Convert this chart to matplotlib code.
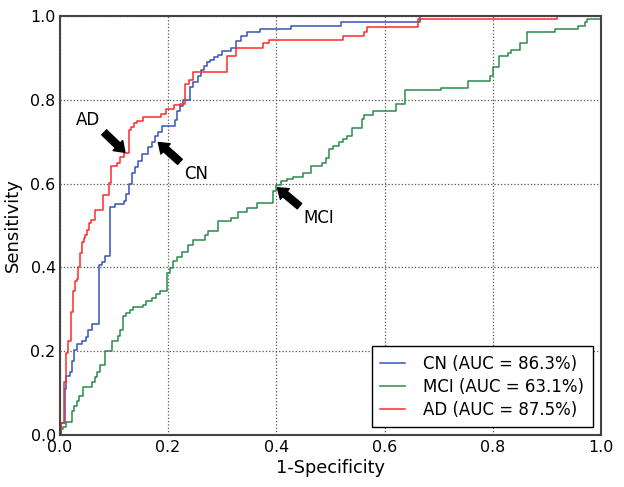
import matplotlib
matplotlib.use('Agg')
import matplotlib.pyplot as plt

# ROC step corners (fpr, tpr)
cn_fpr = [0, 0.002, 0.009, 0.012, 0.018, 0.022, 0.026, 0.031, 0.040, 0.048,
          0.052, 0.0585, 0.0715, 0.077, 0.083, 0.093, 0.1017, 0.119, 0.123,
          0.1275, 0.1325, 0.139, 0.1436, 0.152, 0.162, 0.1695, 0.1756, 0.182,
          0.188, 0.2125, 0.217, 0.222, 0.228, 0.240, 0.246, 0.2557, 0.2606,
          0.266, 0.271, 0.277, 0.285, 0.293, 0.300, 0.317, 0.325, 0.334,
          0.345, 0.370, 0.428, 0.520, 0.665, 1.0]
cn_tpr = [0, 0.03, 0.110, 0.142, 0.152, 0.178, 0.204, 0.218, 0.225, 0.234,
          0.251, 0.265, 0.406, 0.412, 0.428, 0.545, 0.552, 0.559, 0.576,
          0.599, 0.625, 0.639, 0.653, 0.670, 0.687, 0.700, 0.714, 0.722,
          0.736, 0.752, 0.772, 0.784, 0.800, 0.831, 0.841, 0.855, 0.870,
          0.879, 0.889, 0.895, 0.902, 0.907, 0.915, 0.923, 0.939, 0.951,
          0.960, 0.968, 0.976, 0.984, 1.0, 1.0]

mci_fpr = [0, 0.002, 0.006, 0.011, 0.0216, 0.026, 0.031, 0.036, 0.043, 0.0585,
           0.0647, 0.069, 0.074, 0.083, 0.0955, 0.108, 0.112, 0.117, 0.123,
           0.129, 0.135, 0.154, 0.160, 0.1695, 0.1775, 0.185, 0.198, 0.203,
           0.209, 0.217, 0.226, 0.237, 0.246, 0.268, 0.274, 0.293, 0.317,
           0.330, 0.345, 0.365, 0.394, 0.399, 0.408, 0.419, 0.431, 0.449,
           0.465, 0.484, 0.492, 0.498, 0.504, 0.516, 0.524, 0.531, 0.539,
           0.558, 0.562, 0.578, 0.621, 0.638, 0.704, 0.755, 0.795, 0.801,
           0.812, 0.829, 0.833, 0.850, 0.864, 0.915, 0.958, 0.970, 0.975, 1.0]
mci_tpr = [0, 0.015, 0.021, 0.031, 0.057, 0.069, 0.083, 0.094, 0.116, 0.126,
           0.140, 0.150, 0.168, 0.200, 0.224, 0.237, 0.251, 0.285, 0.291,
           0.299, 0.306, 0.311, 0.319, 0.327, 0.337, 0.345, 0.387, 0.398,
           0.416, 0.425, 0.437, 0.453, 0.466, 0.478, 0.486, 0.510, 0.518,
           0.531, 0.542, 0.553, 0.581, 0.597, 0.605, 0.611, 0.616, 0.625,
           0.641, 0.649, 0.661, 0.681, 0.690, 0.698, 0.706, 0.714, 0.732,
           0.754, 0.764, 0.772, 0.790, 0.822, 0.828, 0.845, 0.855, 0.878,
           0.903, 0.911, 0.918, 0.935, 0.960, 0.969, 0.976, 0.984, 0.992, 1.0]

ad_fpr = [0, 0.002, 0.008, 0.012, 0.015, 0.020, 0.024, 0.028, 0.031, 0.034,
          0.037, 0.040, 0.044, 0.047, 0.050, 0.054, 0.058, 0.065, 0.080,
          0.091, 0.094, 0.105, 0.111, 0.119, 0.1275, 0.132, 0.137, 0.143,
          0.154, 0.187, 0.196, 0.210, 0.222, 0.231, 0.239, 0.246, 0.308,
          0.325, 0.375, 0.387, 0.5225, 0.562, 0.567, 0.662, 0.918, 1.0]
ad_tpr = [0, 0.03, 0.128, 0.197, 0.225, 0.293, 0.343, 0.367, 0.373, 0.402,
          0.435, 0.460, 0.471, 0.478, 0.490, 0.506, 0.512, 0.536, 0.573,
          0.601, 0.642, 0.650, 0.663, 0.673, 0.728, 0.734, 0.744, 0.750,
          0.758, 0.766, 0.777, 0.786, 0.790, 0.836, 0.846, 0.866, 0.903,
          0.923, 0.935, 0.943, 0.952, 0.960, 0.973, 0.992, 1.0, 1.0]

labels = ['CN (AUC = 86.3%)', 'MCI (AUC = 63.1%)', 'AD (AUC = 87.5%)']
colors = ['#3555b5', '#2a8a4e', '#ff2a2a']

plt.rcParams['font.family'] = 'DejaVu Sans'

fig = plt.figure(figsize=(6.24, 4.87), dpi=100)
ax = fig.add_axes([0.096, 0.106, 0.867, 0.862])

for fpr, tpr, lab, col in zip([cn_fpr, mci_fpr, ad_fpr],
                              [cn_tpr, mci_tpr, ad_tpr], labels, colors):
    ax.plot(fpr, tpr, drawstyle='steps-post', color=col, lw=1.1, label=lab)

ax.set_xlim(0, 1)
ax.set_ylim(0, 1)
ax.set_xlabel('1-Specificity', fontsize=12.8, labelpad=3)
ax.set_ylabel('Sensitivity', fontsize=13, labelpad=6)
ax.grid(True, linestyle=':', color='#555555', lw=0.9)
ax.tick_params(length=0, pad=3, labelsize=11.4)
for sp in ax.spines.values():
    sp.set_color('#444444')
    sp.set_linewidth(1.5)

arrow = dict(facecolor='black', edgecolor='black', width=5,
             headwidth=10, headlength=7, shrink=0.04)
ax.annotate('AD', xy=(0.122, 0.672), xytext=(0.03, 0.74),
            arrowprops=arrow, fontsize=12)
ax.annotate('CN', xy=(0.18, 0.70), xytext=(0.229, 0.61),
            arrowprops=arrow, fontsize=12)
ax.annotate('MCI', xy=(0.40, 0.592), xytext=(0.45, 0.505),
            arrowprops=arrow, fontsize=12)

leg = ax.legend(loc='lower right', fancybox=False, fontsize=12,
                handlelength=1.5, borderpad=0.5, labelspacing=0.3,
                handletextpad=1.1, framealpha=1, borderaxespad=0.5)
leg.get_frame().set_edgecolor('black')
leg.get_frame().set_linewidth(1.0)

fig.savefig('out.png', dpi=100)
